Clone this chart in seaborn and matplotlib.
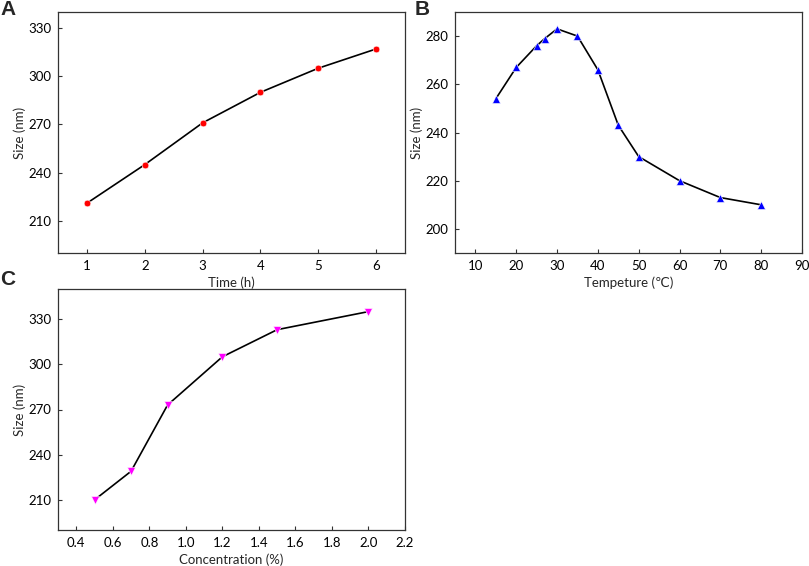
import matplotlib
matplotlib.use("Agg")
import matplotlib.pyplot as plt
import seaborn as sns

# Panel A: size vs time
time_h = [1, 2, 3, 4, 5, 6]
size_time = [221, 245, 271, 290, 305, 317]

# Panel B: size vs temperature
temp_c = [15, 20, 25, 27, 30, 35, 40, 45, 50, 60, 70, 80]
size_temp = [254, 267, 276, 279, 283, 280, 266, 243, 230, 220, 213, 210]

# Panel C: size vs concentration
conc_pct = [0.5, 0.7, 0.9, 1.2, 1.5, 2.0]
size_conc = [210, 229, 273, 305, 323, 335]

sns.set_style("ticks", {"xtick.direction": "in", "ytick.direction": "in"})
plt.rcParams["font.family"] = ["Lato", "DejaVu Sans"]
plt.rcParams["axes.edgecolor"] = "#333333"
plt.rcParams["axes.linewidth"] = 0.9
plt.rcParams["xtick.color"] = "#333333"
plt.rcParams["ytick.color"] = "#333333"
plt.rcParams["xtick.labelcolor"] = "black"
plt.rcParams["ytick.labelcolor"] = "black"

W, H = 809, 566
fig = plt.figure(figsize=(W / 100, H / 100), dpi=100)


def make_ax(x0, y0, x1, y1):
    return fig.add_axes([x0 / W, 1 - y1 / H, (x1 - x0) / W, (y1 - y0) / H])


ax_a = make_ax(58, 12, 405, 253)
ax_b = make_ax(455, 12, 802, 253)
ax_c = make_ax(58, 289, 405, 530)

line_kws = dict(color="black", linewidth=1.2,
                markeredgecolor="white", markeredgewidth=0.4)

sns.lineplot(x=time_h, y=size_time, ax=ax_a, marker="o", markersize=4.8,
             markerfacecolor="#ff0000", **line_kws)
sns.lineplot(x=temp_c, y=size_temp, ax=ax_b, marker="^", markersize=5.5,
             markerfacecolor="#0000ff", **line_kws)
sns.lineplot(x=conc_pct, y=size_conc, ax=ax_c, marker="v", markersize=5.5,
             markerfacecolor="#ff00ff", **line_kws)

ax_a.set_xlim(0.5, 6.5)
ax_a.set_ylim(190, 340)
ax_a.set_xticks([1, 2, 3, 4, 5, 6])
ax_a.set_yticks([210, 240, 270, 300, 330])
ax_a.set_xlabel("Time (h)")

ax_b.set_xlim(5, 90)
ax_b.set_ylim(190, 290)
ax_b.set_xticks(range(10, 91, 10))
ax_b.set_yticks(range(200, 281, 20))
ax_b.set_xlabel("Tempeture (\u2103)")

ax_c.set_xlim(0.3, 2.2)
ax_c.set_ylim(190, 350)
ax_c.set_xticks([0.4, 0.6, 0.8, 1.0, 1.2, 1.4, 1.6, 1.8, 2.0, 2.2])
ax_c.set_yticks([210, 240, 270, 300, 330])
ax_c.set_xticklabels([f"{v:.1f}" for v in ax_c.get_xticks()])
ax_c.set_xlabel("Concentration (%)")

for ax in (ax_a, ax_b, ax_c):
    ax.set_ylabel("Size (nm)", fontsize=9.5, labelpad=1.5)
    ax.xaxis.label.set_fontsize(9.5)
    ax.xaxis.labelpad = 3
    ax.tick_params(labelsize=9.5, length=3, width=0.8, pad=5)
    for s in ax.spines.values():
        s.set_visible(True)

for lbl, x, y in [("A", 0, 0), ("B", 415, 0), ("C", 0, 270)]:
    fig.text(x / W, 1 - y / H, lbl, fontsize=15, fontweight="bold",
             family=["Liberation Sans", "DejaVu Sans"], va="top", ha="left")

fig.savefig("out.png", dpi=100)
